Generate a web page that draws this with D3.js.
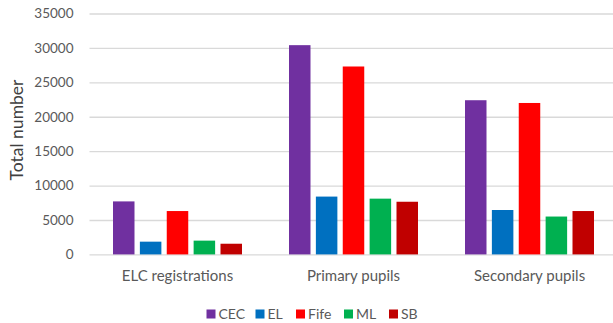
<!DOCTYPE html>
<html>
<head>
<meta charset="utf-8">
<script src="https://cdn.jsdelivr.net/npm/d3@7"></script>
<style>
  html, body { margin: 0; padding: 0; background: #fff; }
  svg { display: block; font-family: Lato, "Open Sans", sans-serif; }
</style>
</head>
<body>
<svg id="chart" width="613" height="323"></svg>
<script>
// Categories along the x axis
const categories = ["ELC registrations", "Primary pupils", "Secondary pupils"];
// Series (local authorities) and their colours
const seriesNames = ["CEC", "EL", "Fife", "ML", "SB"];
const seriesColors = ["#7030A0", "#0070C0", "#FF0000", "#00B050", "#C00000"];
// Values per series, one per category
const cecValues  = [7700, 30400, 22400];
const elValues   = [1850, 8400, 6450];
const fifeValues = [6300, 27300, 22000];
const mlValues   = [2000, 8100, 5500];
const sbValues   = [1550, 7650, 6300];
// Y-axis ticks
const yTicks = [0, 5000, 10000, 15000, 20000, 25000, 30000, 35000];

const values = [cecValues, elValues, fifeValues, mlValues, sbValues];
const rows = [];
categories.forEach((c, ci) => {
  seriesNames.forEach((s, si) => rows.push({ category: c, series: s, value: values[si][ci], color: seriesColors[si] }));
});

const svg = d3.select("#chart");
const plot = { left: 89.5, right: 617.5, top: 13.5, bottom: 254.4 };

const x = d3.scaleBand().domain(categories).range([plot.left, plot.right]).padding(0);
const groupW = 129;
const xs = d3.scaleBand().domain(seriesNames)
  .range([(x.bandwidth() - groupW) / 2, (x.bandwidth() + groupW) / 2])
  .paddingInner(0.2).paddingOuter(0);
const y = d3.scaleLinear().domain([0, 35000]).range([plot.bottom, plot.top]);

// Gridlines and tick labels
const yAxis = d3.axisLeft(y).tickValues(yTicks).tickFormat(d3.format("d"))
  .tickSize(-(plot.right - plot.left)).tickPadding(16);
const gy = svg.append("g").attr("transform", `translate(${plot.left},0)`).call(yAxis);
gy.select(".domain").remove();
gy.selectAll(".tick line").attr("stroke", "#d9d9d9").attr("stroke-width", 1.3);
gy.selectAll(".tick text").attr("fill", "#595959").attr("font-size", 13.5)
  .attr("font-family", "Lato, 'Open Sans', sans-serif");

// Bars
svg.append("g").selectAll("rect").data(rows).join("rect")
  .attr("x", d => x(d.category) + xs(d.series))
  .attr("width", xs.bandwidth())
  .attr("y", d => y(d.value))
  .attr("height", d => y(0) - y(d.value))
  .attr("fill", d => d.color);

// Category labels
const xAxis = d3.axisBottom(x).tickSize(0).tickPadding(16);
const gx = svg.append("g").attr("transform", `translate(0,${plot.bottom})`).call(xAxis);
gx.select(".domain").remove();
gx.selectAll(".tick text").attr("fill", "#595959").attr("font-size", 15)
  .attr("font-family", "Lato, 'Open Sans', sans-serif");

// Y-axis title
svg.append("text")
  .attr("transform", "translate(23,130) rotate(-90)")
  .attr("text-anchor", "middle")
  .attr("fill", "#404040")
  .attr("font-size", 17.5)
  .text("Total number");

// Legend
const legendX = [206.5, 255.5, 296, 344, 389];
const lg = svg.append("g").selectAll("g").data(seriesNames).join("g")
  .attr("transform", (d, i) => `translate(${legendX[i]},314)`);
lg.append("rect").attr("x", 0).attr("y", -4.5).attr("width", 9).attr("height", 9)
  .attr("fill", (d, i) => seriesColors[i]);
lg.append("text").attr("x", 12).attr("dy", "0.36em").attr("fill", "#595959")
  .attr("font-size", 14).text(d => d);
</script>
</body>
</html>
